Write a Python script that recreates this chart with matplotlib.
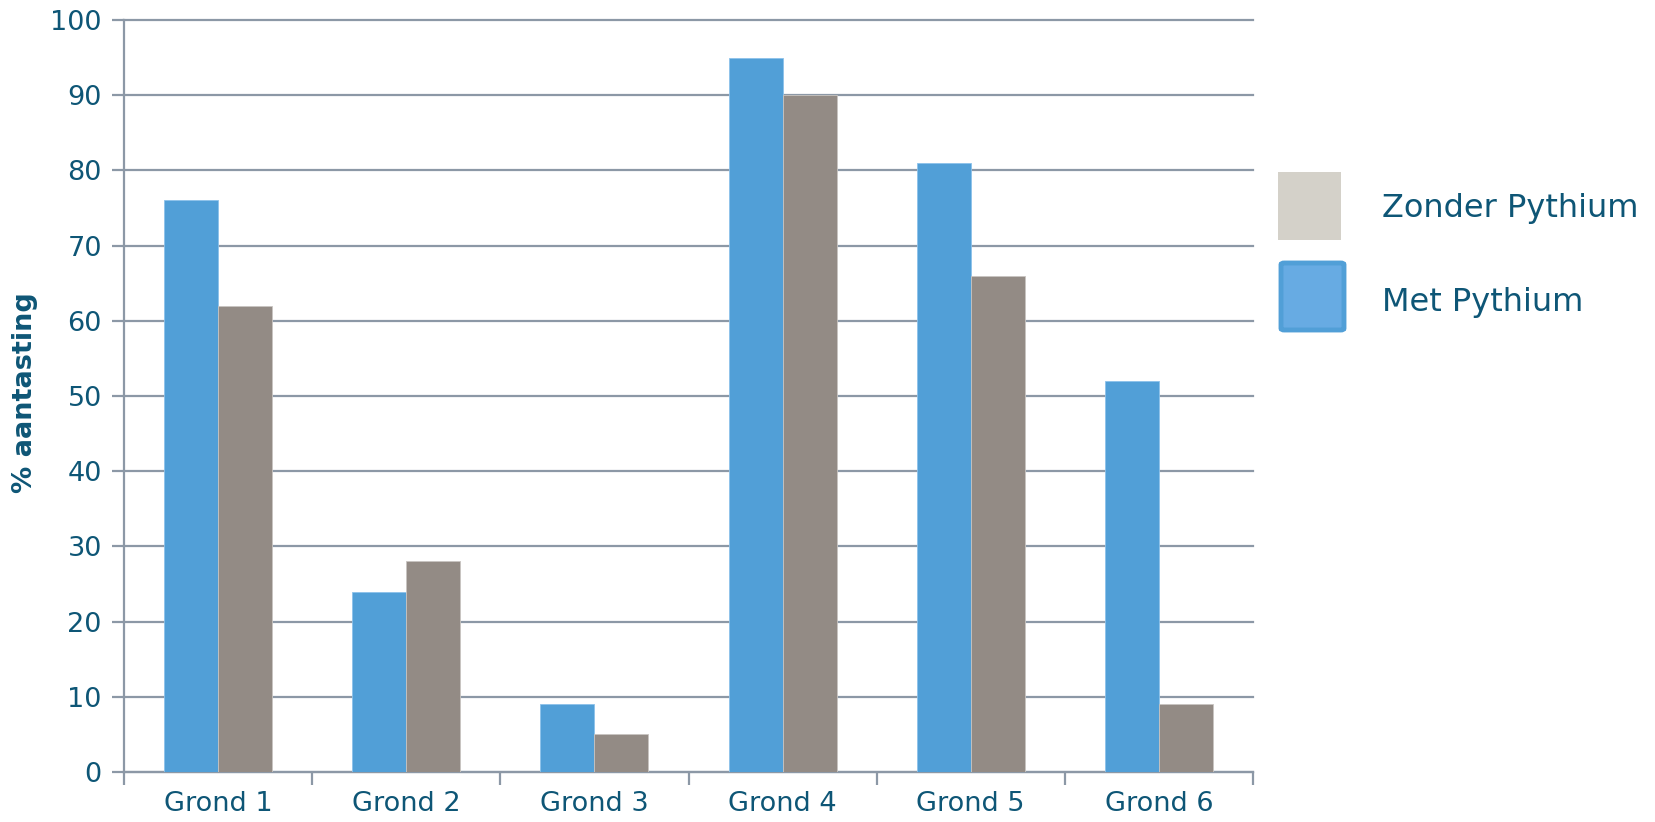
import matplotlib
matplotlib.use("Agg")
import matplotlib.pyplot as plt
import matplotlib.patches as mpatches
import numpy as np

# ── Data ──────────────────────────────────────────────────────────────────────
categories = ["Grond 1", "Grond 2", "Grond 3", "Grond 4", "Grond 5", "Grond 6"]
met_pythium = [76, 24, 9, 95, 81, 52]
zonder_pythium = [62, 28, 5, 90, 66, 9]
y_ticks = [0, 10, 20, 30, 40, 50, 60, 70, 80, 90, 100]

# ── Style ─────────────────────────────────────────────────────────────────────
TEXT = "#0E5676"
GRID = "#8C98A6"
BLUE = "#519FD7"
GREY = "#938B85"
LEG_GREY = "#D4D1C9"
LEG_BLUE = "#67ABE3"

plt.rcParams["font.family"] = ["DejaVu Sans"]

fig = plt.figure(figsize=(16.55, 8.22), dpi=100)
ax = fig.add_axes([124 / 1655, 1 - 772 / 822, (1253 - 124) / 1655, (772 - 20) / 822])

x = np.arange(len(categories))
w = 0.287
ax.bar(x - w / 2, met_pythium, width=w, color=BLUE, edgecolor="#8CC2EA",
       linewidth=0.6, zorder=3)
ax.bar(x + w / 2, zonder_pythium, width=w, color=GREY, edgecolor="#C9C5C1",
       linewidth=0.6, zorder=3)

ax.set_xlim(-0.5, len(categories) - 0.5)
ax.set_ylim(0, 100)
ax.set_yticks(y_ticks)
ax.set_yticklabels([str(v) for v in y_ticks], fontsize=19.5, color=TEXT)
ax.yaxis.grid(True, color=GRID, lw=1.6, zorder=0)
for gl in ax.get_ygridlines():
    gl.set_clip_on(False)
ax.tick_params(axis="y", length=9, width=1.6, color=GRID, pad=7)

ax.set_xticks(x)
ax.set_xticklabels(categories, fontsize=19.5, color=TEXT)
ax.set_xticks(np.arange(len(categories) + 1) - 0.5, minor=True)
ax.tick_params(axis="x", which="major", length=0, pad=14)
ax.tick_params(axis="x", which="minor", length=9, width=1.6, color=GRID)

for side in ["top", "right"]:
    ax.spines[side].set_visible(False)
for side in ["left", "bottom"]:
    ax.spines[side].set_color(GRID)
    ax.spines[side].set_linewidth(1.6)

fig.text(25 / 1655, 1 - 393 / 822, "% aantasting", rotation=90, fontsize=19.5,
         fontweight="bold", color=TEXT, ha="center", va="center")

# ── Legend (drawn manually to keep patch styles) ──────────────────────────────
fig.patches.append(mpatches.Rectangle((1278 / 1655, 1 - 240 / 822), 63 / 1655, 68 / 822,
                                      transform=fig.transFigure, facecolor=LEG_GREY,
                                      edgecolor="none"))
fig.patches.append(mpatches.FancyBboxPatch((1281 / 1655, 1 - 330 / 822), 63 / 1655, 67 / 822,
                                           boxstyle="round,pad=0,rounding_size=0.002",
                                           transform=fig.transFigure, facecolor=LEG_BLUE,
                                           edgecolor=BLUE, linewidth=3.5))
fig.text(1382 / 1655, 1 - 208 / 822, "Zonder Pythium", fontsize=23, color=TEXT, va="center")
fig.text(1382 / 1655, 1 - 303 / 822, "Met Pythium", fontsize=23, color=TEXT, va="center")

fig.savefig("out.png", dpi=100)
